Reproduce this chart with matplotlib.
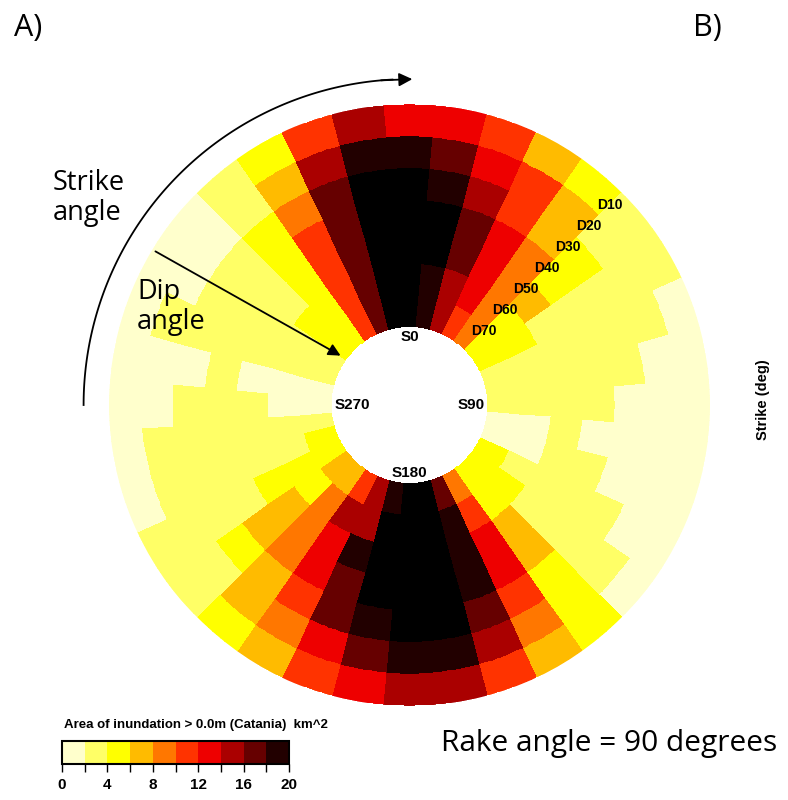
import numpy as np
import matplotlib
matplotlib.use("Agg")
import matplotlib.pyplot as plt
from matplotlib.colors import ListedColormap, BoundaryNorm

# strike sectors (deg) and dip rings
strikes = [0, 10, 20, 30, 40, 50, 60, 70, 80, 90, 100, 110, 120, 130, 140, 150, 160, 170,
           180, 190, 200, 210, 220, 230, 240, 250, 260, 270, 280, 290, 300, 310, 320, 330, 340, 350]
dip_labels = ["D10", "D20", "D30", "D40", "D50", "D60", "D70"]

# inundated area (km^2) for each strike, one list per dip (22 = above the top class)
area_d10 = [13, 13, 11, 7, 5, 3, 3, 1, 1, 1, 1, 1, 1, 1, 5, 7, 11, 15,
            15, 13, 11, 7, 5, 3, 3, 1, 1, 1, 1, 1, 1, 1, 3, 5, 11, 15]
area_d20 = [19, 17, 13, 11, 7, 3, 3, 3, 1, 1, 1, 1, 1, 3, 5, 9, 15, 19,
            19, 17, 13, 9, 7, 3, 3, 3, 3, 1, 1, 3, 1, 1, 3, 7, 15, 19]
area_d30 = [22, 19, 15, 11, 7, 5, 3, 3, 3, 1, 1, 1, 3, 3, 5, 11, 17, 22,
            22, 19, 17, 11, 7, 5, 3, 3, 3, 3, 1, 3, 3, 3, 5, 9, 17, 22]
area_d40 = [22, 22, 17, 13, 9, 5, 3, 3, 3, 3, 1, 3, 3, 3, 7, 13, 19, 22,
            22, 22, 17, 13, 9, 7, 3, 3, 3, 3, 3, 3, 3, 3, 5, 11, 17, 22]
area_d50 = [22, 22, 17, 13, 9, 7, 3, 3, 3, 3, 3, 3, 3, 3, 7, 13, 19, 22,
            22, 22, 19, 13, 9, 7, 5, 3, 3, 3, 1, 3, 3, 3, 5, 11, 17, 22]
area_d60 = [22, 19, 15, 13, 9, 5, 5, 3, 3, 3, 1, 1, 3, 5, 5, 11, 19, 22,
            22, 22, 15, 15, 9, 5, 5, 3, 3, 1, 1, 3, 3, 5, 5, 11, 17, 22]
area_d70 = [22, 19, 15, 11, 9, 5, 5, 3, 3, 3, 1, 1, 5, 5, 5, 9, 17, 22,
            22, 19, 15, 11, 7, 7, 5, 5, 3, 1, 1, 3, 3, 5, 5, 11, 17, 22]

class_edges = [0, 2, 4, 6, 8, 10, 12, 14, 16, 18, 20]
class_colors = ['#FFFFCC', '#FFFF66', '#FFFF00', '#FFBB00', '#FF7700',
                '#FF3300', '#EE0000', '#AA0000', '#660000', '#220000']

cmap = ListedColormap(class_colors)
cmap.set_over('black')
norm = BoundaryNorm(class_edges, cmap.N)

fig = plt.figure(figsize=(7.88, 8.0), dpi=100)

# polar panel: centre (409.5, 405) px, outer radius 300.5 px
px_unit = 31.8
hole = 78 / px_unit
ax = fig.add_axes([0.1383, 0.1181, 0.7627, 0.7513], projection='polar')
ax.set_theta_zero_location('N')
ax.set_theta_direction(-1)
ax.set_ylim(0, hole + 7)
ax.set_axis_off()

# rows from the inner ring (D70) to the outer ring (D10); each 10 deg sector split in 1 deg steps
grid = np.array([area_d70, area_d60, area_d50, area_d40, area_d30, area_d20, area_d10], dtype=float)
sub = 10
grid_fine = np.repeat(grid, sub, axis=1)
theta_edges = np.deg2rad(np.linspace(strikes[0] - 5, strikes[-1] + 5, len(strikes) * sub + 1))
r_edges = hole + np.arange(len(dip_labels) + 1)
ax.pcolormesh(theta_edges, r_edges, grid_fine, cmap=cmap, norm=norm, shading='flat')

lab_font = 'Liberation Sans'
r_s = 75 / px_unit
ax.text(0, r_s, 'S0', ha='center', va='top', fontsize=11, fontweight='bold', family=lab_font)
ax.text(np.pi / 2, r_s, 'S90', ha='right', va='center', fontsize=11, fontweight='bold', family=lab_font)
ax.text(np.pi, r_s, 'S180', ha='center', va='bottom', fontsize=11, fontweight='bold', family=lab_font)
ax.text(3 * np.pi / 2, r_s, 'S270', ha='left', va='center', fontsize=11, fontweight='bold', family=lab_font)

for k, lab in enumerate(dip_labels):
    rr = (283 - 29.7 * k) / px_unit
    ax.text(np.deg2rad(45), rr, lab, ha='center', va='center', fontsize=10,
            fontweight='bold', family=lab_font)

# strike arc arrow
r_arc = 326 / px_unit
ta = np.deg2rad(np.linspace(270, 357, 120))
ax.plot(ta, np.full_like(ta, r_arc), color='black', lw=1.3, clip_on=False)
ax.annotate('', xy=(np.deg2rad(0.5), r_arc), xytext=(np.deg2rad(355), r_arc),
            arrowprops=dict(arrowstyle='-|>', color='black', lw=1.3,
                            mutation_scale=20, shrinkA=0, shrinkB=0),
            annotation_clip=False)

# dip arrow
fig.add_artist(matplotlib.patches.FancyArrowPatch(
    (153 / 788, 1 - 250 / 800), (343 / 788, 1 - 357 / 800),
    transform=fig.transFigure, arrowstyle='-|>', color='black', lw=1.3,
    mutation_scale=18))

txt_font = 'Open Sans'
fig.text(14 / 788, 1 - 28 / 800, 'A)', fontsize=22, family=txt_font, ha='left', va='center')
fig.text(693 / 788, 1 - 28 / 800, 'B)', fontsize=22, family=txt_font, ha='left', va='center')
fig.text(53 / 788, 1 - 190 / 800, 'Strike', fontsize=19.5, family=txt_font, ha='left', va='baseline')
fig.text(53 / 788, 1 - 220 / 800, 'angle', fontsize=19.5, family=txt_font, ha='left', va='baseline')
fig.text(137 / 788, 1 - 299 / 800, 'Dip', fontsize=19.5, family=txt_font, ha='left', va='baseline')
fig.text(137 / 788, 1 - 329 / 800, 'angle', fontsize=19.5, family=txt_font, ha='left', va='baseline')
fig.text(763 / 788, 1 - 400 / 800, 'Strike (deg)', rotation=90, fontsize=10.5,
         fontweight='bold', family=lab_font, ha='center', va='center')
fig.text(441 / 788, 1 - 751 / 800, 'Rake angle = 90 degrees', fontsize=21.5,
         family=txt_font, ha='left', va='baseline')

# colour bar
cax = fig.add_axes([62 / 788, 1 - 764 / 800, 227 / 788, 23 / 800])
cb = matplotlib.colorbar.ColorbarBase(cax, cmap=cmap, norm=norm, orientation='horizontal',
                                      boundaries=class_edges, ticks=class_edges)
cb.set_ticklabels([str(v) if v % 4 == 0 else '' for v in class_edges])
cb.outline.set_linewidth(1.5)
cax.tick_params(axis='x', direction='out', length=6, width=1, labelsize=11, pad=4)
for t in cax.get_xticklabels():
    t.set_fontweight('bold')
    t.set_family(lab_font)
fig.text(64 / 788, 1 - 725 / 800, 'Area of inundation > 0.0m (Catania)  km^2', fontsize=9.5,
         fontweight='bold', family=lab_font, ha='left', va='center')

fig.savefig('out.png', dpi=100, facecolor='white')
